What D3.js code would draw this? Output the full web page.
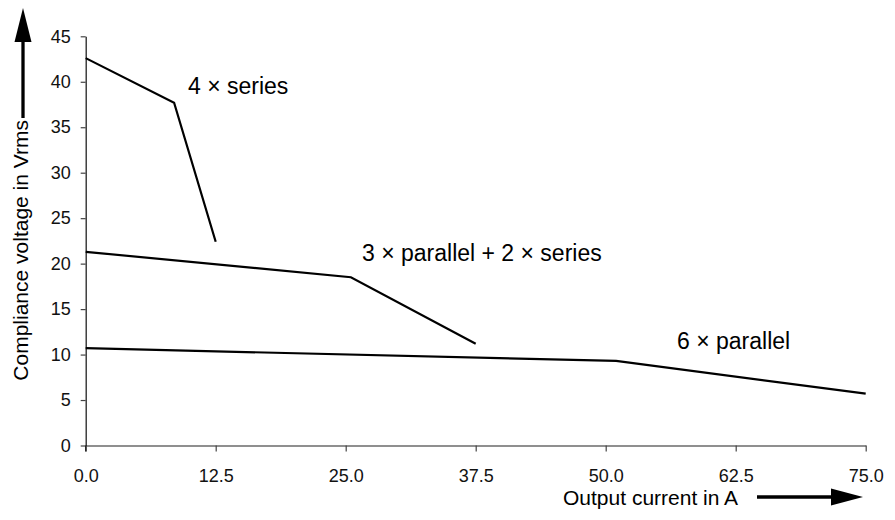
<!DOCTYPE html>
<html>
<head>
<meta charset="utf-8">
<script src="https://cdn.jsdelivr.net/npm/d3@7"></script>
<style>
  html, body { margin: 0; padding: 0; background: #fff; }
  svg { display: block; font-family: "Liberation Sans", Arial, sans-serif; }
</style>
</head>
<body>
<svg id="chart" width="895" height="520"></svg>
<script>
// ---- data ----
const xTicks = [0, 12.5, 25, 37.5, 50, 62.5, 75];
const yTicks = [0, 5, 10, 15, 20, 25, 30, 35, 40, 45];
const seriesNames = ["4 × series", "3 × parallel + 2 × series", "6 × parallel"];
const series4Current = [0, 8.5, 12.5];
const series4Voltage = [42.6, 37.7, 22.4];
const par3Current = [0, 25.5, 37.5];
const par3Voltage = [21.3, 18.5, 11.2];
const par6Current = [0, 51, 75];
const par6Voltage = [10.7, 9.3, 5.7];
const xTitle = "Output current in A";
const yTitle = "Compliance voltage in Vrms";

// ---- layout ----
const svg = d3.select("#chart");
const x = d3.scaleLinear().domain([0, 75]).range([85.7, 865.7]);
const y = d3.scaleLinear().domain([0, 45]).range([445.5, 36.3]);

// x axis
const xAxis = svg.append("g")
  .attr("transform", `translate(0,${y(0)})`)
  .call(d3.axisBottom(x).tickValues(xTicks).tickFormat(d3.format(".1f"))
        .tickSizeInner(6).tickSizeOuter(0).tickPadding(18));
xAxis.select(".domain").attr("stroke", "#6a6a6a").attr("stroke-width", 1.3);
xAxis.selectAll(".tick line").attr("stroke", "#444").attr("stroke-width", 1.2);
xAxis.selectAll(".tick text").attr("font-size", 18).attr("fill", "#111")
  .attr("font-family", "Liberation Sans, Arial, sans-serif");

// y axis
const yAxis = svg.append("g")
  .attr("transform", `translate(${x(0)},0)`)
  .call(d3.axisLeft(y).tickValues(yTicks).tickFormat(d3.format("d"))
        .tickSizeInner(5).tickSizeOuter(0).tickPadding(10));
yAxis.select(".domain").attr("stroke", "#222").attr("stroke-width", 1.3);
yAxis.selectAll(".tick line").attr("stroke", "#444").attr("stroke-width", 1.2);
yAxis.selectAll(".tick text").attr("font-size", 18).attr("fill", "#111")
  .attr("font-family", "Liberation Sans, Arial, sans-serif");
// extend y axis line below x axis (tick at 0.0)
svg.append("line").attr("x1", x(0)).attr("x2", x(0))
  .attr("y1", y(0)).attr("y2", y(0) + 6).attr("stroke", "#222").attr("stroke-width", 1.3);

// data lines
const line = d3.line().x(d => x(d[0])).y(d => y(d[1]));
const data = [
  d3.zip(series4Current, series4Voltage),
  d3.zip(par3Current, par3Voltage),
  d3.zip(par6Current, par6Voltage)
];
svg.append("g").selectAll("path").data(data).join("path")
  .attr("d", line).attr("fill", "none").attr("stroke", "#000")
  .attr("stroke-width", 2.2).attr("stroke-linejoin", "miter");

// series labels
const labelPos = [[188, 94], [362, 261], [677, 349]];
svg.append("g").selectAll("text").data(seriesNames).join("text")
  .attr("x", (d, i) => labelPos[i][0]).attr("y", (d, i) => labelPos[i][1])
  .attr("font-size", 23).attr("fill", "#000").text(d => d);

// axis titles
svg.append("text").attr("x", 563).attr("y", 505)
  .attr("font-size", 21).attr("fill", "#000").text(xTitle);
svg.append("text").attr("transform", "translate(28,120) rotate(-90)")
  .attr("text-anchor", "end").attr("font-size", 21).attr("fill", "#000").text(yTitle);

// arrows
svg.append("line").attr("x1", 23).attr("x2", 23).attr("y1", 118).attr("y2", 40)
  .attr("stroke", "#000").attr("stroke-width", 3.3);
svg.append("path").attr("d", "M23,8 L14.5,42 L31.5,42 Z").attr("fill", "#000");
svg.append("line").attr("x1", 757).attr("x2", 834).attr("y1", 497).attr("y2", 497)
  .attr("stroke", "#000").attr("stroke-width", 3.3);
svg.append("path").attr("d", "M863,497 L831,488.5 L831,505.5 Z").attr("fill", "#000");
</script>
</body>
</html>
